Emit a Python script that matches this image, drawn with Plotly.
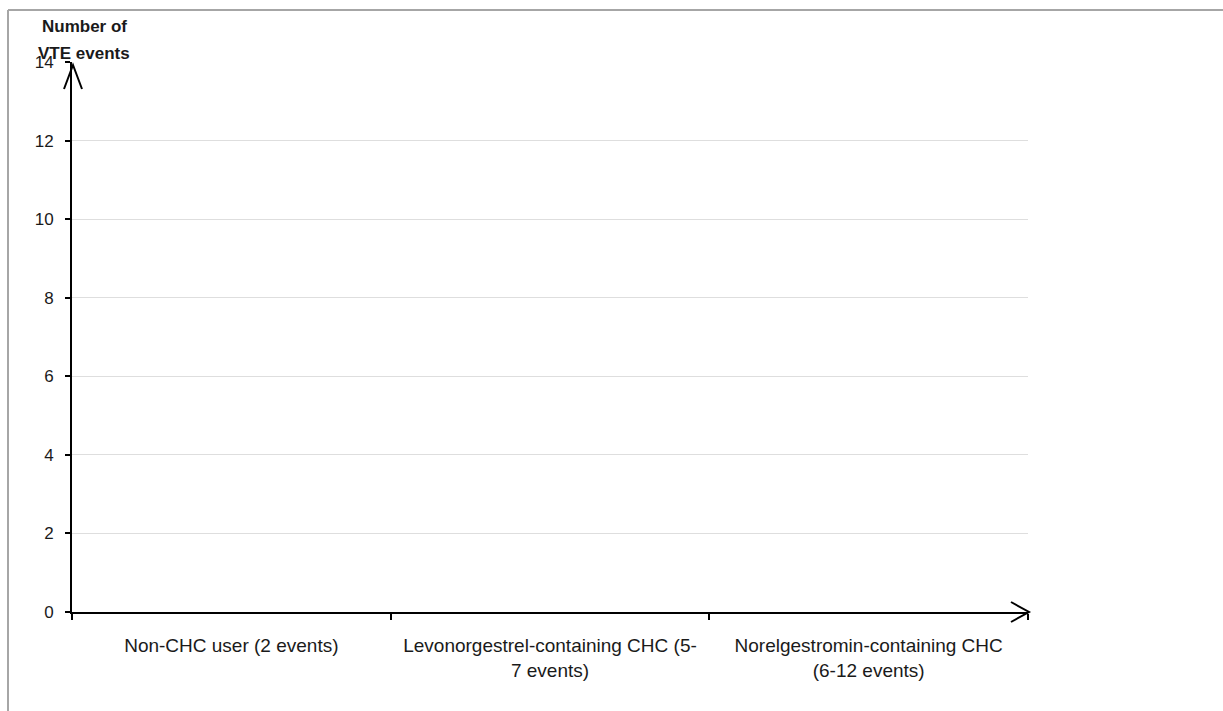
import plotly.graph_objects as go

# ---- data ----
categories = [
    "Non-CHC user (2 events)",
    "Levonorgestrel-containing CHC (5-<br>7 events)",
    "Norelgestromin-containing CHC<br>(6-12 events)",
]
vte_events = [None, None, None]   # no bars drawn in the reference
y_ticks = [0, 2, 4, 6, 8, 10, 12, 14]
y_title_lines = ["Number of", "VTE events"]

W, H = 1223, 711
L, R, T, B = 72, 195, 62, 99
pw, ph = W - L - R, H - T - B

fig = go.Figure()
fig.add_trace(go.Bar(x=categories, y=vte_events, marker_color="#4472c4", showlegend=False))

text_col = "#1a1a1a"
fig.update_layout(
    width=W, height=H,
    margin=dict(l=L, r=R, t=T, b=B),
    paper_bgcolor="white", plot_bgcolor="white",
    font=dict(family="Liberation Sans, Arial, sans-serif", color=text_col),
    xaxis=dict(
        type="category", categoryorder="array", categoryarray=categories,
        range=[-0.5, len(categories) - 0.5],
        showline=True, linecolor="black", linewidth=2,
        showgrid=False, zeroline=False,
        ticks="outside", tickson="boundaries", ticklen=6, tickwidth=1.5, tickcolor="black",
        tickfont=dict(size=19, color=text_col),
        ticklabelstandoff=15,
        fixedrange=True,
    ),
    yaxis=dict(
        range=[0, 14], tickvals=y_ticks,
        showline=True, linecolor="black", linewidth=2,
        showgrid=True, gridcolor="#dedede", gridwidth=1,
        zeroline=False,
        ticks="outside", ticklen=5, tickwidth=2, tickcolor="black",
        tickfont=dict(size=17, color=text_col),
        ticklabelstandoff=8,
        fixedrange=True,
    ),
)

# arrowheads (open V) anchored to axis ends in paper coords, offsets in pixels
fig.add_shape(type="path", xref="paper", yref="paper", xsizemode="pixel", ysizemode="pixel",
              xanchor=0, yanchor=1,
              path="M -8,-27 L 1,-3 L 10,-27",
              line=dict(color="black", width=2), layer="above")
fig.add_shape(type="path", xref="paper", yref="paper", xsizemode="pixel", ysizemode="pixel",
              xanchor=1, yanchor=0,
              path="M -17,10 L 1,0 L -17,-10",
              line=dict(color="black", width=2), layer="above")

# outer frame (top and left edges visible)
fx = (8 - L) / pw
fy = (H - B - 10) / ph
fig.add_shape(type="line", xref="paper", yref="paper", x0=fx, x1=(W - L + 20) / pw, y0=fy, y1=fy,
              line=dict(color="#a6a6a6", width=2))
fig.add_shape(type="line", xref="paper", yref="paper", x0=fx, x1=fx, y0=fy, y1=-(B + 20) / ph,
              line=dict(color="#a6a6a6", width=2))

# y axis title (bold, two lines)
for txt, py in zip(y_title_lines, [27, 53]):
    fig.add_annotation(text=f"<b>{txt}</b>", xref="paper", yref="paper",
                       x=(84 - L) / pw, y=(H - B - py) / ph,
                       xanchor="center", yanchor="middle", showarrow=False,
                       font=dict(size=17, color=text_col))

fig.write_html("out.html")
